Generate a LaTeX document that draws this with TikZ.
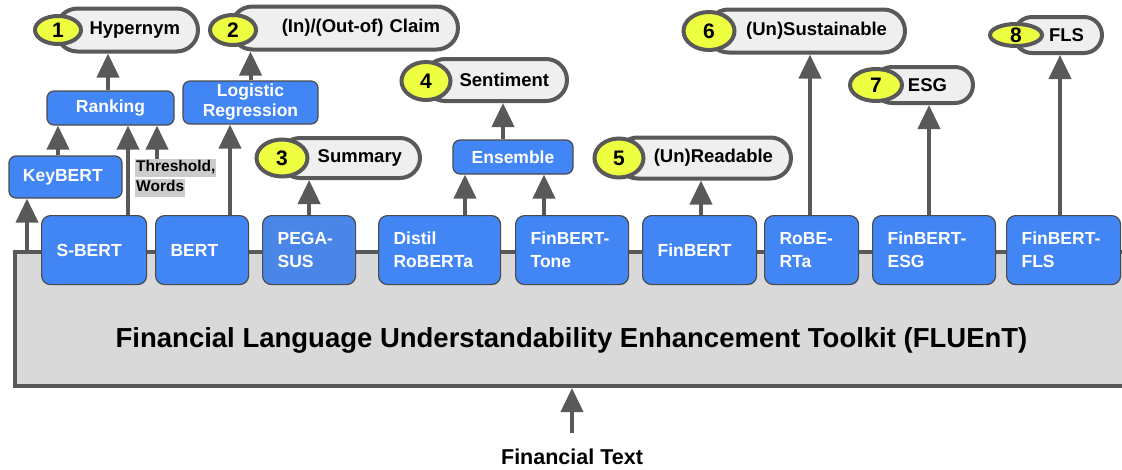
\documentclass[tikz,border=0pt]{standalone}
\usepackage{fontspec}
\setmainfont{Liberation Sans}
\usepackage{xcolor}
\usetikzlibrary{arrows.meta, shapes.geometric}

\definecolor{edgegray}{HTML}{595959}
\definecolor{boxedge}{HTML}{4A4A4A}
\definecolor{toolgray}{HTML}{D9D9D9}
\definecolor{pillgray}{HTML}{EFEFEF}
\definecolor{modelblue}{HTML}{4285F4}
\definecolor{pegablue}{HTML}{4A86E8}
\definecolor{limeyellow}{HTML}{EEFF41}
\definecolor{markgray}{HTML}{CCCCCC}

\newcommand{\marked}[1]{\colorbox{markgray}{\rule[-4.5pt]{0pt}{15.5pt}#1}}

\begin{document}
\begin{tikzpicture}[
    x=1pt, y=-1pt,
    toolkit/.style={draw=edgegray, fill=toolgray, line width=4pt, minimum width=1113pt, minimum height=134pt, font=\fontsize{27.5}{33}\selectfont\bfseries, text height=61pt, text depth=5pt},
    model/.style={draw=boxedge, fill=modelblue, line width=1.2pt, rounded corners=9pt, anchor=north west, minimum height=69pt, inner xsep=15pt, align=left, text=white, font=\fontsize{17.5}{23}\selectfont\bfseries},
    method/.style={draw=boxedge, fill=modelblue, line width=1.2pt, rounded corners=7pt, inner sep=0pt, align=center, text=white, font=\fontsize{17.5}{20}\selectfont\bfseries},
    task/.style={draw=edgegray, fill=pillgray, line width=4pt, anchor=east, inner xsep=18pt, inner ysep=0pt, align=right, font=\fontsize{18.5}{22}\selectfont\bfseries},
    num/.style={draw=edgegray, fill=limeyellow, line width=4pt, ellipse, inner sep=0pt, font=\fontsize{21}{24}\selectfont\bfseries},
    note/.style={anchor=north west, inner sep=0pt, align=left, font=\fontsize{15.5}{20}\selectfont\bfseries},
    arr/.style={draw=edgegray, line width=4pt, -{Triangle[length=24pt, width=22pt]}}
]
    \useasboundingbox (0,0) rectangle (1122,469);

    % Toolkit
    \node[toolkit] (flu) at (571.5,319) {Financial Language Understandability Enhancement Toolkit (FLUEnT)};
    \node[font=\fontsize{21.5}{26}\selectfont\bfseries, inner sep=2pt] (ftext) at (572,457) {Financial Text};

    % Models
    \node[model, text width=75pt] (sbert) at (41,215) {S-BERT};
    \node[model, text width=63pt] (bert) at (155,215) {BERT};
    \node[model, text width=63pt, fill=pegablue] (pegasus) at (262,215) {PEGA-\\SUS};
    \node[model, text width=92pt] (distil) at (378,215) {Distil\\RoBERTa};
    \node[model, text width=83pt] (tone) at (515,215) {FinBERT-\\Tone};
    \node[model, text width=84pt] (finbert) at (642,215) {FinBERT};
    \node[model, text width=64pt] (roberta) at (764,215) {RoBE-\\RTa};
    \node[model, text width=93pt] (esg) at (872,215) {FinBERT-\\ESG};
    \node[model, text width=84pt] (fls) at (1006,215) {FinBERT-\\FLS};

    % Intermediate steps
    \node[method, align=left, inner xsep=14pt, text width=85pt, minimum height=42pt] (keybert) at (65.5,177) {KeyBERT};
    \node[method, minimum width=127pt, minimum height=34pt] (ranking) at (110.5,108) {Ranking};
    \node[method, minimum width=135pt, minimum height=43pt] (logreg) at (250.5,102.5) {Logistic\\Regression};
    \node[method, minimum width=120pt, minimum height=34pt] (ensemble) at (513,157) {Ensemble};
    \setlength{\fboxsep}{1pt}
    \node[note] (thresh) at (135,159) {\marked{Threshold,}\\\marked{Words}};

    % Tasks
    \node[task, minimum height=43pt, rounded corners=21.5pt, text width=106pt] (p1) at (200,30) {Hypernym};
    \node[task, minimum height=43pt, rounded corners=21.5pt, text width=191pt] (p2) at (460,28) {(In)/(Out-of) Claim};
    \node[task, minimum height=40pt, rounded corners=20pt, text width=104pt] (p3) at (422,158) {Summary};
    \node[task, minimum height=42pt, rounded corners=21pt, text width=107pt] (p4) at (569,80) {Sentiment};
    \node[task, minimum height=41pt, rounded corners=20.5pt, text width=138pt] (p5) at (793,158) {(Un)Readable};
    \node[task, minimum height=43pt, rounded corners=21.5pt, text width=162pt] (p6) at (907,31) {(Un)Sustainable};
    \node[task, minimum height=36pt, rounded corners=18pt, inner xsep=26pt, text width=47pt] (p7) at (975,85) {ESG};
    \node[task, minimum height=36pt, rounded corners=18pt, text width=52pt] (p8) at (1104,35) {FLS};

    \node[num, minimum width=46pt, minimum height=28pt] (n1) at (58,30) {1};
    \node[num, minimum width=46pt, minimum height=30pt] (n2) at (233,30) {2};
    \node[num, minimum width=51pt, minimum height=37pt] (n3) at (282,158) {3};
    \node[num, minimum width=49pt, minimum height=38pt] (n4) at (426,81) {4};
    \node[num, minimum width=49pt, minimum height=39pt] (n5) at (619,158) {5};
    \node[num, minimum width=51pt, minimum height=38pt] (n6) at (709,31) {6};
    \node[num, minimum width=52pt, minimum height=32pt] (n7) at (876,85) {7};
    \node[num, minimum width=52pt, minimum height=22pt] (n8) at (1016,35) {8};

    % Connections
    \draw[arr, shorten <=14pt] (ftext.north) -- (flu.south -| ftext.north);
    \draw[arr] (flu.north -| 27,0) -- (keybert.south -| 27,0);
    \draw[arr] (keybert.north -| 58,0) -- (ranking.south -| 58,0);
    \draw[arr] (sbert.north -| 128,0) -- (ranking.south -| 128,0);
    \draw[arr] (thresh.north -| 157,0) -- (ranking.south -| 157,0);
    \draw[arr] (ranking.north -| 108,0) -- (p1.south -| 108,0);
    \draw[arr] (bert.north -| 230,0) -- (logreg.south -| 230,0);
    \draw[arr] (logreg.north) -- (logreg.north |- p2.south);
    \draw[arr] (pegasus.north) -- (pegasus.north |- p3.south);
    \draw[arr] (distil.north -| 465,0) -- (ensemble.south -| 465,0);
    \draw[arr] (tone.north -| 544,0) -- (ensemble.south -| 544,0);
    \draw[arr] (ensemble.north -| 503,0) -- (p4.south -| 503,0);
    \draw[arr] (finbert.north -| 701,0) -- (p5.south -| 701,0);
    \draw[arr] (roberta.north -| 810,0) -- (p6.south -| 810,0);
    \draw[arr] (esg.north -| 929,0) -- (p7.south -| 929,0);
    \draw[arr] (fls.north -| 1060,0) -- (p8.south -| 1060,0);

\end{tikzpicture}
\end{document}
